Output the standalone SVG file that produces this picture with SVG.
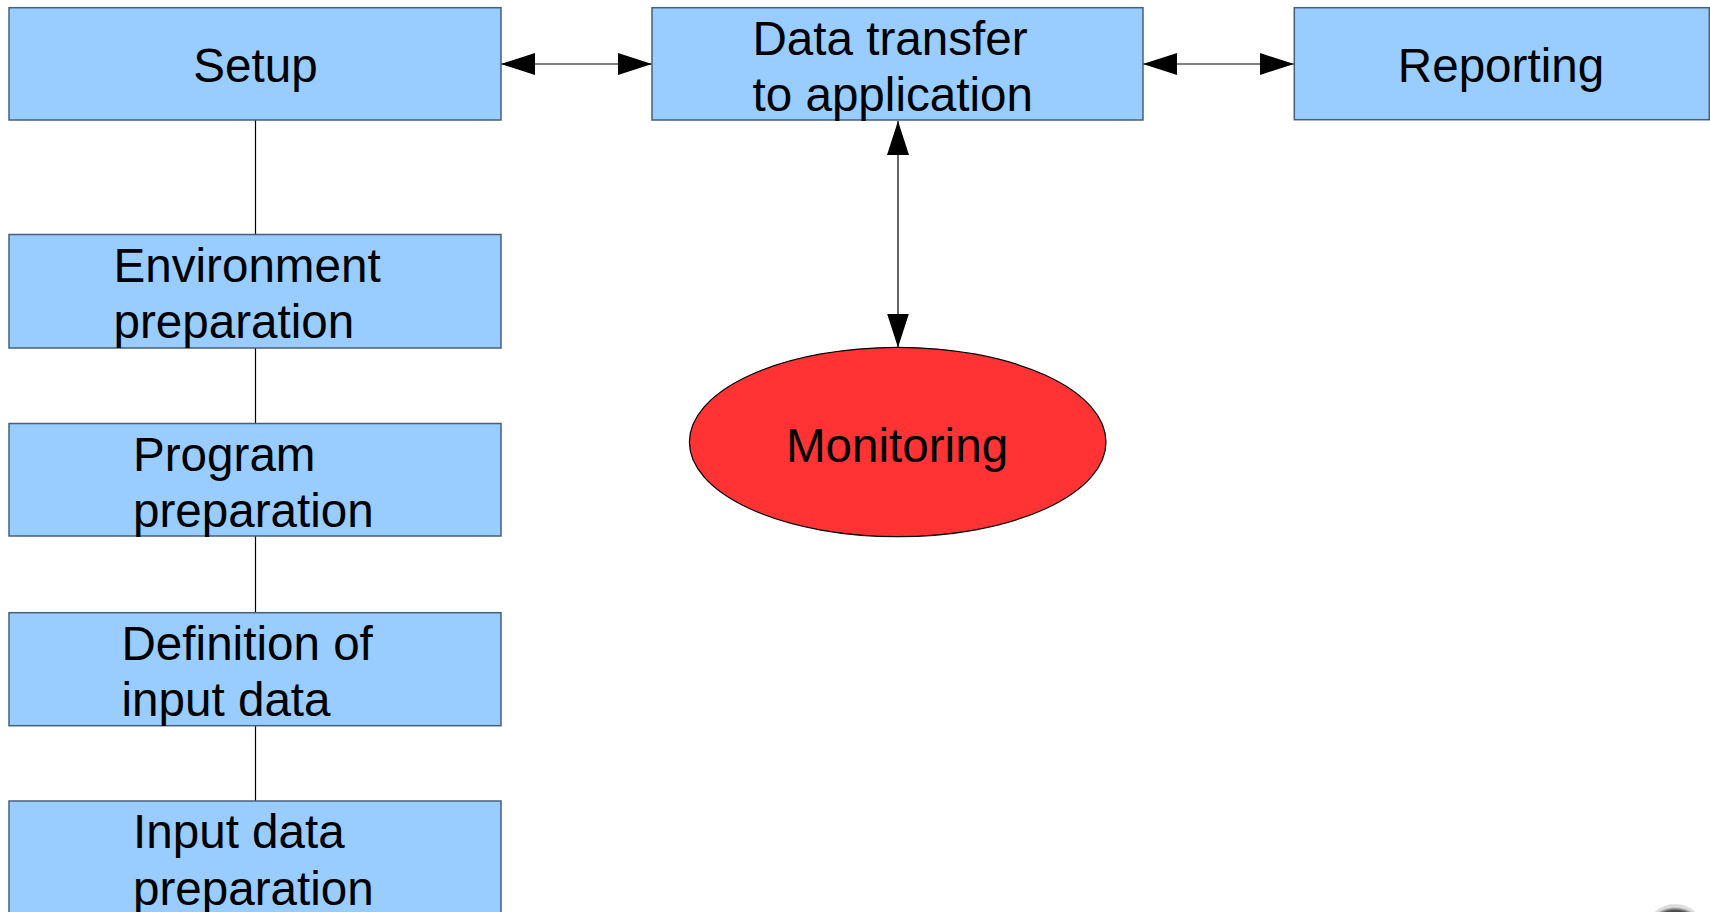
<svg xmlns="http://www.w3.org/2000/svg" width="1710" height="912" viewBox="0 0 1710 912">
<style>
.box{fill:#99ccff;stroke:#46607c;stroke-width:1.5}
.lbl{font-family:"Liberation Sans",Arial,sans-serif;font-size:47.6px;fill:#000}
.mid{text-anchor:middle}
.con{stroke:#000;stroke-width:1.2;fill:none}
</style>
<defs>
<marker id="ah" markerUnits="userSpaceOnUse" markerWidth="34" markerHeight="22" refX="34" refY="11" orient="auto-start-reverse" viewBox="0 0 34 22">
<path d="M0,0 L34,11 L0,22 z" fill="#000"/>
</marker>
<radialGradient id="orb" cx="50%" cy="60%" r="55%">
<stop offset="0" stop-color="#1c2550"/>
<stop offset="0.75" stop-color="#151a33"/>
<stop offset="0.9" stop-color="#555"/>
<stop offset="1" stop-color="#ddd"/>
</radialGradient>
</defs>
<rect width="1710" height="912" fill="#fff"/>
<g id="connectors">
<line class="con" x1="501" y1="64" x2="652" y2="64" marker-start="url(#ah)" marker-end="url(#ah)"/>
<line class="con" x1="1143" y1="64" x2="1294" y2="64" marker-start="url(#ah)" marker-end="url(#ah)"/>
<line class="con" x1="898" y1="121" x2="898" y2="347.5" marker-start="url(#ah)" marker-end="url(#ah)"/>
<line class="con" x1="255.5" y1="120" x2="255.5" y2="234.5"/>
<line class="con" x1="255.5" y1="348" x2="255.5" y2="423.5"/>
<line class="con" x1="255.5" y1="536" x2="255.5" y2="612.5"/>
<line class="con" x1="255.5" y1="725.5" x2="255.5" y2="801"/>
</g>
<g id="setup">
<rect class="box" x="9" y="7.7" width="492" height="112.3"/>
<text class="lbl mid" x="255.5" y="82">Setup</text>
</g>
<g id="data-transfer">
<rect class="box" x="652" y="7.7" width="491" height="112.3"/>
<text class="lbl" x="752.5" y="55">Data transfer</text>
<text class="lbl" x="752.5" y="111">to application</text>
</g>
<g id="reporting">
<rect class="box" x="1294.3" y="7.7" width="415" height="112"/>
<text class="lbl mid" x="1501" y="82">Reporting</text>
</g>
<g id="environment">
<rect class="box" x="9" y="234.5" width="492" height="113.5"/>
<text class="lbl" x="113.5" y="281.7">Environment</text>
<text class="lbl" x="113.5" y="338">preparation</text>
</g>
<g id="program">
<rect class="box" x="9" y="423.5" width="492" height="112.5"/>
<text class="lbl" x="133" y="470.7">Program</text>
<text class="lbl" x="133" y="526.7">preparation</text>
</g>
<g id="definition">
<rect class="box" x="9" y="612.7" width="492" height="113"/>
<text class="lbl" x="121.5" y="659.5">Definition of</text>
<text class="lbl" x="121.5" y="716">input data</text>
</g>
<g id="input-data">
<rect class="box" x="9" y="801" width="492" height="120"/>
<text class="lbl" x="133" y="848.3">Input data</text>
<text class="lbl" x="133" y="905">preparation</text>
</g>
<g id="monitoring">
<ellipse cx="897.7" cy="442" rx="208.3" ry="94.7" fill="#ff3333" stroke="#000" stroke-width="1.2"/>
<text class="lbl mid" x="897" y="461.7">Monitoring</text>
</g>
<circle cx="1675" cy="934" r="30" fill="url(#orb)"/>
</svg>
